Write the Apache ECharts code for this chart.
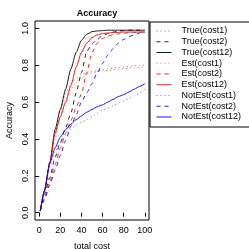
<!DOCTYPE html>
<html><head><meta charset="utf-8">
<script src="https://cdn.jsdelivr.net/npm/echarts@6/dist/echarts.min.js"></script>
<style>html,body{margin:0;padding:0;background:#fff}#c{width:249px;height:249px}</style>
</head><body><div id="c"></div>
<script>
const totalCost = [1,5,10,15,20,25,30,35,40,45,50,55,60,65,70,75,80,85,90,95,100];
const trueCost1   = [.01,.12,.28,.43,.56,.65,.70,.73,.75,.758,.765,.77,.775,.78,.785,.787,.79,.793,.797,.80,.80];
const trueCost2   = [.01,.10,.19,.30,.38,.46,.54,.65,.76,.875,.915,.94,.96,.972,.98,.985,.988,.99,.99,.99,.99];
const trueCost12  = [.01,.12,.27,.45,.56,.67,.78,.87,.935,.968,.982,.986,.988,.99,.99,.99,.99,.99,.99,.99,.99];
const estCost1    = [.01,.11,.26,.40,.52,.61,.67,.71,.735,.75,.76,.765,.77,.772,.775,.778,.78,.783,.787,.789,.79];
const estCost2    = [.01,.08,.17,.26,.35,.43,.50,.57,.645,.76,.87,.92,.945,.958,.965,.97,.974,.976,.978,.98,.98];
const estCost12   = [.01,.12,.27,.43,.52,.60,.69,.79,.87,.92,.95,.965,.972,.975,.977,.978,.98,.98,.98,.98,.98];
const notEstCost1 = [.01,.11,.25,.33,.38,.42,.45,.475,.49,.505,.52,.54,.555,.57,.58,.595,.605,.62,.635,.65,.67];
const notEstCost2 = [.01,.07,.15,.23,.31,.39,.47,.53,.60,.65,.70,.76,.81,.855,.89,.92,.94,.955,.965,.975,.98];
const notEstCost12= [.01,.12,.27,.35,.41,.45,.48,.505,.525,.545,.56,.575,.585,.60,.615,.63,.64,.655,.67,.685,.70];
const xTicks = [0,20,40,60,80,100];
const yTicks = [0,0.2,0.4,0.6,0.8,1.0];
const seriesNames = ['True(cost1)','True(cost2)','True(cost12)','Est(cost1)','Est(cost2)','Est(cost12)','NotEst(cost1)','NotEst(cost2)','NotEst(cost12)'];
const seriesValues = [trueCost1,trueCost2,trueCost12,estCost1,estCost2,estCost12,notEstCost1,notEstCost2,notEstCost12];

const colors = ['#000000','#000000','#000000','#ff0000','#ff0000','#ff0000','#0000ff','#0000ff','#0000ff'];
const dashes = [[1,3],[4,4],'solid',[1,3],[4,4],'solid',[1,3],[4,4],'solid'];
const alphas = [0.55,0.85,0.9,0.55,0.85,0.9,0.55,0.85,0.9];
const FONT = 'Liberation Sans';

const chart = echarts.init(document.getElementById('c'), null, {renderer:'canvas'});
chart.setOption({
  animation:false,
  textStyle:{fontFamily:FONT},
  title:{text:'Accuracy', left:92, textAlign:'center', top:4,
    textStyle:{fontFamily:FONT,fontSize:9,fontWeight:'bold',color:'#000'}},
  grid:{left:35, top:21, width:114, height:199, show:true, borderColor:'#000', borderWidth:1,
    containLabel:false, outerBoundsMode:'none'},
  legend:{orient:'vertical', left:150, top:22, itemWidth:15, itemHeight:9, itemGap:0.75,
    borderColor:'#000', borderWidth:1, padding:[4,40,5,6],
    itemStyle:{opacity:0}, lineStyle:{width:1},
    data:seriesNames,
    textStyle:{fontFamily:FONT,fontSize:9,color:'#000',lineHeight:10,padding:[0,0,0,5]}},
  xAxis:{type:'value', min:-4, max:104,
    name:'total cost', nameLocation:'middle', nameGap:22,
    nameTextStyle:{fontFamily:FONT,fontSize:9,color:'#000'},
    axisLine:{show:false}, splitLine:{show:false},
    axisTick:{show:true, length:4, lineStyle:{color:'#000'}, customValues:xTicks},
    axisLabel:{fontFamily:FONT,fontSize:9,color:'#000',margin:6, customValues:xTicks}},
  yAxis:{type:'value', min:-0.04, max:1.04,
    name:'Accuracy', nameLocation:'middle', nameGap:21,
    nameTextStyle:{fontFamily:FONT,fontSize:9,color:'#000'},
    axisLine:{show:false}, splitLine:{show:false},
    axisTick:{show:true, length:4, lineStyle:{color:'#000'}, customValues:yTicks},
    axisLabel:{fontFamily:FONT,fontSize:9,color:'#000',margin:5, rotate:90,
      customValues:yTicks, formatter:v=>v.toFixed(1)}},
  series: seriesNames.map((n,k)=>({
    name:n, type:'line', symbol:'none', smooth:0.2, smoothMonotone:'x',
    color:colors[k],
    lineStyle:{color:colors[k], width:1, type:dashes[k], opacity:alphas[k]},
    data: totalCost.map((x,i)=>[x, seriesValues[k][i]])
  }))
});
</script></body></html>
